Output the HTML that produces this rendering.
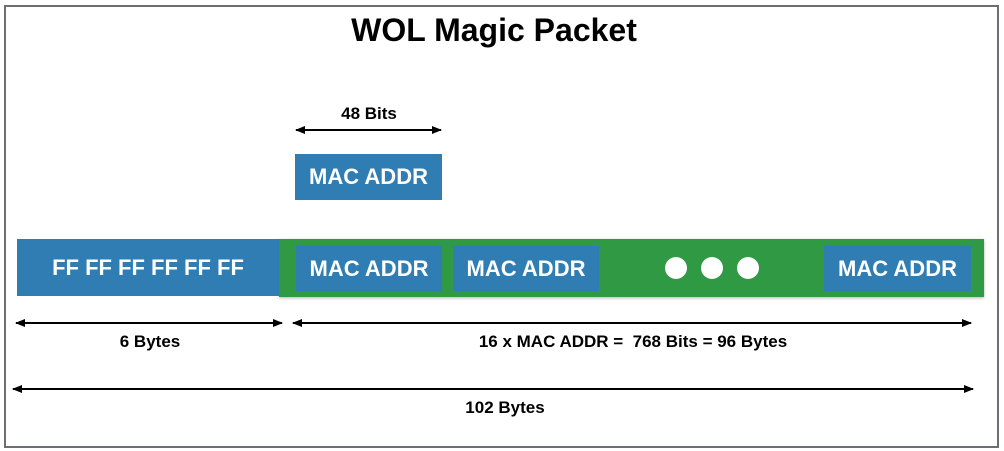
<!DOCTYPE html>
<html><head><meta charset="utf-8"><style>
body{margin:0;width:1004px;height:451px;background:#fff;position:relative;overflow:hidden;font-family:"Liberation Sans",sans-serif;font-weight:bold}
.a{position:absolute}
.b{position:absolute;background:#2f7db2;color:#fff;display:flex;align-items:center;justify-content:center;font-size:22px}
.t{position:absolute;text-align:center;font-size:17px;color:#000}
</style></head><body>
<div class="a" style="left:4px;top:5px;width:991px;height:439px;border:2px solid #6b6e73"></div>
<div class="t" style="left:294px;width:400px;top:12px;font-size:32px">WOL Magic Packet</div>
<div class="t" style="left:296px;width:146px;top:104px">48 Bits</div>
<div class="b" style="left:295px;top:154px;width:147px;height:46px">MAC ADDR</div>
<div class="a" style="left:279px;top:239px;width:705px;height:58px;background:#2f9944;box-shadow:0 1px 3px rgba(0,0,0,.3)"></div>
<div class="b" style="left:17px;top:239px;width:262px;height:57px">FF FF FF FF FF FF</div>
<div class="b" style="left:296px;top:246px;width:146px;height:45px">MAC ADDR</div>
<div class="b" style="left:453px;top:246px;width:146px;height:45px">MAC ADDR</div>
<div class="b" style="left:824px;top:246px;width:147px;height:45px">MAC ADDR</div>
<svg class="a" style="left:0;top:0" width="1004" height="451">
<defs><marker id="m" markerWidth="10" markerHeight="8" refX="9" refY="4" orient="auto-start-reverse" markerUnits="userSpaceOnUse"><path d="M0,0L10,4L0,8z" fill="#000"/></marker></defs>
<g fill="#fff"><circle cx="676" cy="268" r="11"/><circle cx="712" cy="268" r="11"/><circle cx="748" cy="268" r="11"/></g>
<g stroke="#000" stroke-width="2" marker-start="url(#m)" marker-end="url(#m)">
<line x1="296" y1="130" x2="441" y2="130"/>
<line x1="16" y1="323" x2="282" y2="323"/>
<line x1="293" y1="323" x2="971" y2="323"/>
<line x1="13" y1="389" x2="973" y2="389"/>
</g></svg>
<div class="t" style="left:17px;width:266px;top:332px">6 Bytes</div>
<div class="t" style="left:293px;width:680px;top:332px">16 x MAC ADDR =&nbsp; 768 Bits = 96 Bytes</div>
<div class="t" style="left:13px;width:984px;top:398px">102 Bytes</div>
</body></html>
